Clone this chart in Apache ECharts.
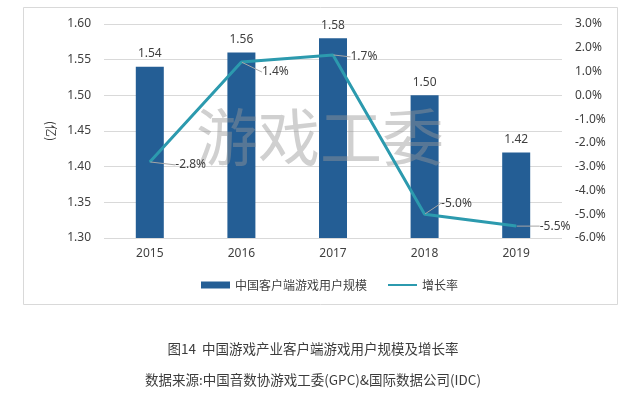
<!DOCTYPE html>
<html>
<head>
<meta charset="utf-8">
<script src="https://cdn.jsdelivr.net/npm/echarts@6/dist/echarts.min.js"></script>
<style>html,body{margin:0;padding:0;background:#fff;}#c{width:626px;height:394px;}</style>
</head>
<body>
<div id="c"></div>
<script>
var categories = ['2015', '2016', '2017', '2018', '2019'];
var users = [1.54, 1.56, 1.58, 1.50, 1.42];
var growth = [-2.8, 1.4, 1.7, -5.0, -5.5];
var leftTicks = {min: 1.30, max: 1.60, interval: 0.05};
var rightTicks = {min: -6, max: 3, interval: 1};
var labelShift = [[25, 3], [20, 10], [17, 2], [16, -11], [23, 0]];

var font = 'Noto Sans, Noto Sans CJK SC, sans-serif';
var chart = echarts.init(document.getElementById('c'), null, {renderer: 'canvas'});
chart.setOption({
  backgroundColor: '#fff',
  animation: false,
  textStyle: {fontFamily: font},
  grid: {left: 104, right: 64, top: 24, bottom: 156},
  graphic: [
    {type: 'rect', shape: {x: 23.5, y: 7.5, width: 594, height: 297}, style: {fill: 'none', stroke: '#d9d9d9', lineWidth: 1}, z: 0},
    {type: 'text', left: 196, top: 106, z: 3, style: {text: '游戏工委', font: '62px "Noto Sans CJK SC"', fill: 'rgba(150,150,150,0.45)'}},
    {type: 'text', left: 'center', top: 342, style: {text: '图14  中国游戏产业客户端游戏用户规模及增长率', font: '13.5px "Noto Sans CJK SC"', fill: '#3c3c3c'}},
    {type: 'text', left: 'center', top: 373, style: {text: '数据来源:中国音数协游戏工委(GPC)&国际数据公司(IDC)', font: '13.5px "Noto Sans CJK SC"', fill: '#3c3c3c'}}
  ],
  legend: {
    bottom: 98,
    left: 196,
    itemGap: 20,
    itemWidth: 29,
    itemHeight: 7,
    textStyle: {fontSize: 12, color: '#404040', fontFamily: 'Noto Sans CJK SC'},
    data: [
      {name: '中国客户端游戏用户规模', icon: 'rect'},
      {name: '增长率', itemStyle: {opacity: 0}}
    ]
  },
  xAxis: {
    type: 'category',
    data: categories,
    axisLine: {show: false},
    axisTick: {show: false},
    axisLabel: {color: '#404040', fontSize: 12, margin: 10}
  },
  yAxis: [
    {
      type: 'value',
      min: leftTicks.min, max: leftTicks.max, interval: leftTicks.interval,
      name: '(亿)', nameLocation: 'middle', nameGap: 44, nameRotate: -90,
      nameTextStyle: {color: '#404040', fontSize: 12, fontFamily: 'Noto Sans CJK SC'},
      axisLine: {show: false}, axisTick: {show: false},
      axisLabel: {color: '#404040', fontSize: 12, margin: 13, formatter: function (v) { return v.toFixed(2); }},
      splitLine: {lineStyle: {color: '#d9d9d9', width: 1}}
    },
    {
      type: 'value',
      min: rightTicks.min, max: rightTicks.max, interval: rightTicks.interval,
      axisLine: {show: false}, axisTick: {show: false},
      splitLine: {show: false},
      axisLabel: {color: '#404040', fontSize: 12, margin: 13, formatter: function (v) { return v.toFixed(1) + '%'; }}
    }
  ],
  series: [
    {
      name: '中国客户端游戏用户规模',
      type: 'bar',
      data: users,
      barWidth: 28,
      z: 2,
      itemStyle: {color: '#245e95'},
      label: {show: true, position: 'top', distance: 7, color: '#404040', fontSize: 12, formatter: function (p) { return p.value.toFixed(2); }}
    },
    {
      name: '增长率',
      type: 'line',
      yAxisIndex: 1,
      data: growth,
      z: 5,
      symbol: 'circle',
      symbolSize: 1,
      itemStyle: {color: '#2c9aae'},
      lineStyle: {color: '#2c9aae', width: 3},
      label: {show: true, position: 'right', distance: 0, color: '#404040', fontSize: 12, formatter: function (p) { return p.value.toFixed(1) + '%'; }},
      labelLayout: function (p) { var s = labelShift[p.dataIndex]; return {dx: s[0], dy: s[1]}; },
      labelLine: {show: true, lineStyle: {color: '#a6a6a6', width: 1}}
    }
  ]
});
</script>
</body>
</html>
